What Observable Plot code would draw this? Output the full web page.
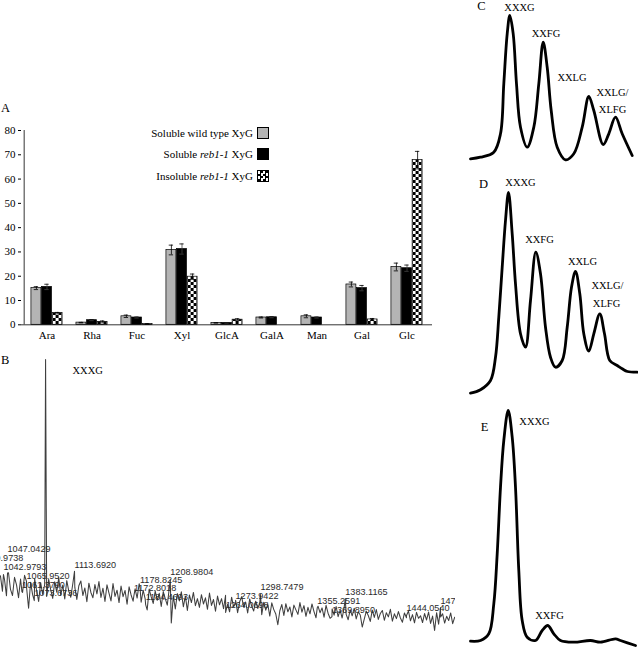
<!DOCTYPE html>
<html><head><meta charset="utf-8">
<script src="https://cdn.jsdelivr.net/npm/d3@7"></script>
<script src="https://cdn.jsdelivr.net/npm/@observablehq/plot@0.6"></script>
<style>
html,body{margin:0;padding:0;background:#fff;}
#fig{position:relative;width:638px;height:648px;overflow:hidden;background:#fff;font-family:"Liberation Serif",serif;color:#000;}
#fig > *{position:absolute;}
.letter{font-size:12.5px;line-height:1;}
#legend{left:0;top:122px;width:269px;font-size:11px;}
#legend .row{display:flex;justify-content:flex-end;align-items:center;height:21.6px;}
#legend .sw{width:10px;height:10px;margin-left:4px;border:0.8px solid #000;}
</style></head><body>
<svg width="0" height="0" style="position:absolute"><defs>
<pattern id="checker" width="6" height="6" patternUnits="userSpaceOnUse">
<rect width="6" height="6" fill="#fff"/><rect width="3" height="3" fill="#000"/><rect x="3" y="3" width="3" height="3" fill="#000"/>
</pattern></defs></svg>
<div id="fig"></div>
<script>
// ---------- Panel A data ----------
const sugars = ["Ara","Rha","Fuc","Xyl","GlcA","GalA","Man","Gal","Glc"];
const seriesNames = ["Soluble wild type XyG","Soluble reb1-1 XyG","Insoluble reb1-1 XyG"];
const wildType        = [15.1, 0.9, 3.5, 30.8, 0.8, 3.0, 3.5, 16.6, 23.8];
const wildTypeErr     = [0.6, 0.1, 0.5, 2.0, 0.1, 0.2, 0.6, 1.0, 1.6];
const reb1Soluble     = [15.6, 1.9, 3.0, 31.2, 0.8, 3.1, 3.0, 15.1, 23.3];
const reb1SolubleErr  = [1.1, 0.2, 0.2, 2.1, 0.1, 0.2, 0.2, 1.1, 1.3];
const reb1Insoluble   = [4.8, 1.2, 0.3, 19.8, 2.1, 0, 0, 2.2, 67.8];
const reb1InsolubleErr= [0.3, 0.4, 0.1, 1.1, 0.4, 0, 0, 0.4, 3.6];
const yTicksA = [0,10,20,30,40,50,60,70,80];

// ---------- Panel B data (MALDI spectrum) ----------
const noiseStartMz = 1040, noiseStepMz = 2;
const noiseLevels = [
23.0,17.5,21.8,15.9,24.1,18.2,16.0,22.5,19.8,15.2,
21.9,17.1,23.2,18.8,11.5,20.7,16.3,22.0,17.8,13.9,
20.6,16.4,19.9,15.7,21.8,18.1,15.0,20.9,17.2,22.4,
16.1,19.7,14.8,21.3,17.6,15.4,20.2,18.9,14.6,19.5,
21.2,16.0,18.7,13.8,20.4,17.1,15.2,19.9,16.6,21.0,
15.3,18.6,13.9,19.8,16.9,14.1,20.3,15.7,17.9,13.5,
19.4,15.6,17.8,12.9,19.1,16.2,14.0,18.4,15.1,20.2,
13.6,17.9,14.8,10.9,18.3,15.5,13.2,17.6,14.3,16.8,
12.1,17.4,14.9,12.6,18.6,6.2,15.9,11.2,16.7,14.1,
17.3,12.0,15.8,10.7,16.2,13.5,17.1,12.4,14.9,11.8,
16.3,13.0,15.2,11.1,16.9,12.5,14.6,10.4,15.8,12.7,
14.9,11.3,16.1,12.9,10.2,15.4,12.0,14.3,9.9,13.8,
15.6,11.9,13.7,9.8,14.8,12.2,10.5,14.0,11.4,13.2,
9.2,13.6,10.8,12.9,8.7,13.4,11.0,9.4,5.6,10.6,
12.8,8.9,13.1,10.2,11.9,8.4,12.6,10.9,9.3,13.5,
10.1,12.4,8.6,11.8,9.5,13.0,10.3,8.1,12.2,9.9,
11.6,8.3,12.5,9.7,7.9,11.2,9.0,12.1,8.5,10.8,
8.0,11.7,9.3,7.4,10.9,8.8,11.5,7.7,10.2,9.1,
4.8,7.6,10.4,8.9,6.8,10.8,8.2,11.0,7.5,9.6,
10.7,7.2,9.9,8.4,11.1,6.9,9.5,7.8,10.3,8.0,
6.5,9.8,8.1,10.5,7.0,9.2,6.3,10.0,7.9,8.8,
6.4,9.6,7.3,10.1,6.1,8.7,3.6,9.9,5.8,8.4,
9.5,6.2,8.6,7.1,9.8,6.0,8.3];
const peakMz     = [1042.9793,1047.0429,1061.3790,1065.9520,1073.6736,1084.9,1113.6920,1172.8018,1178.8245,1184.4693,1208.9804,1264.0698,1273.9422,1298.7479,1355.2591,1369.8950,1383.1165,1444.0540,1477.8763];
const peakHeight = [23.5,24.0,17.4,21.0,14.2,100,24.6,16.0,19.0,12.8,21.7,10.0,13.2,16.4,11.7,8.5,14.9,8.9,11.7];
const labelMz    = [1019.9738,1042.9793,1047.0429,1061.3790,1065.9520,1073.6736,1113.6920,1172.8018,1178.8245,1184.4693,1208.9804,1264.0698,1273.9422,1298.7479,1355.2591,1369.8950,1383.1165,1444.0540,1477.8763];
const labelLevel = [29.2,26.0,32.4,19.9,23.1,16.7,27.0,18.5,21.4,15.3,24.2,12.5,15.7,18.9,14.2,11.0,17.4,11.4,14.2];

// ---------- Panels C, D, E data (HPAEC traces) ----------
const traceC_t = [0,1.0,2.33,3.0,3.33,3.67,3.93,4.27,4.6,5.0,5.67,6.33,6.83,7.27,7.67,8.07,8.67,9.5,10.33,11.17,11.83,12.33,13.27,13.83,14.5,15.17,16.17];
const traceC_v = [1.7,3.3,8.3,26.7,76.7,126.7,145,126.7,76.7,33.3,13.3,33.3,76.7,118.3,93.3,50,13.3,0.7,6.7,33.3,64,50,16,26.7,43.3,26.7,5];
const traceD_t = [0,1,2,2.5,2.83,3.17,3.5,3.8,4.17,4.5,5,5.5,6,6.53,7,7.5,8,8.5,9.17,9.67,10.1,10.5,10.93,11.33,11.83,12.33,12.93,13.4,13.93,14.67,15.17,15.7,16.67];
const traceD_v = [2.3,5.7,15,38.3,78.3,128.3,175,203,161.7,111.7,61.7,48.3,95,143.3,121.7,68.3,38.3,28.3,35,68.3,108.3,124,101.7,61.7,44.3,61.7,81.7,61.7,35,30,26.7,24,23.3];
const traceE_t = [0,1,1.83,2.33,2.67,3,3.33,3.77,4.17,4.5,4.83,5.17,5.67,6.5,7.17,7.73,8.33,9,10.33,12,13,14.5,15,16.5];
const traceE_v = [4.3,5,11.7,41.7,91.7,158.3,205,235,208.3,158.3,75,25,8.3,5,15,20,11.7,5,3.3,5,3.3,6.7,5,0];
const labelsC = [{t:4.9,v:153,s:"XXXG"},{t:7.55,v:127,s:"XXFG"},{t:10.15,v:83.3,s:"XXLG"},{t:14.2,v:68.3,s:"XXLG/"},{t:14.2,v:51.3,s:"XLFG"}];
const labelsD = [{t:5.0,v:213,s:"XXXG"},{t:6.9,v:156,s:"XXFG"},{t:11.2,v:134,s:"XXLG"},{t:13.7,v:110,s:"XXLG/"},{t:13.6,v:92,s:"XLFG"}];
const labelsE = [{t:6.4,v:224,s:"XXXG"},{t:7.9,v:30,s:"XXFG"}];
const letterC = {t:1.1,v:155,s:"C"}, letterD = {t:1.3,v:212,s:"D"}, letterE = {t:1.4,v:219,s:"E"};

const fig = document.getElementById("fig");
const serif = "Liberation Serif, Times New Roman, serif";
function place(el, left, top) { el.style.left = left + "px"; el.style.top = top + "px"; fig.appendChild(el); return el; }

// ---------- Panel A ----------
const rows = [];
sugars.forEach((s, i) => {
  rows.push({sugar: s, k: 0, value: wildType[i], err: wildTypeErr[i]});
  rows.push({sugar: s, k: 1, value: reb1Soluble[i], err: reb1SolubleErr[i]});
  rows.push({sugar: s, k: 2, value: reb1Insoluble[i], err: reb1InsolubleErr[i]});
});
const bandW = (432 - 21) / sugars.length;
const barW = 10.6;
const barInset = (bandW - barW) / 2;
const capInset = (bandW - 5) / 2;
const styleA = [{fill: "#b4b4b4", dx: -barW}, {fill: "#000", dx: 0}, {fill: "url(#checker)", dx: barW}];
const marksA = [];
styleA.forEach((st, k) => {
  marksA.push(Plot.barY(rows.filter(r => r.k === k), {x: "sugar", y1: 0, y2: "value", fill: st.fill, stroke: "#000", strokeWidth: 0.7, insetLeft: barInset, insetRight: barInset, dx: st.dx}));
});
styleA.forEach((st, k) => {
  const d = rows.filter(r => r.k === k && r.err > 0);
  marksA.push(Plot.ruleX(d, {x: "sugar", y1: r => r.value - r.err, y2: r => r.value + r.err, stroke: k === 1 ? "#444" : "#000", strokeWidth: 0.8, dx: st.dx}));
  marksA.push(Plot.tickY(d, {x: "sugar", y: r => r.value + r.err, stroke: "#000", strokeWidth: 0.8, insetLeft: capInset, insetRight: capInset, dx: st.dx}));
  marksA.push(Plot.tickY(d, {x: "sugar", y: r => r.value - r.err, stroke: k === 1 ? "#444" : "#000", strokeWidth: 0.8, insetLeft: capInset, insetRight: capInset, dx: st.dx}));
});
marksA.push(Plot.ruleY([0], {stroke: "#000", strokeWidth: 0.8}));
marksA.push(Plot.ruleX([sugars[0]], {y1: 0, y2: 80, stroke: "#000", strokeWidth: 0.8, dx: -bandW / 2}));

const plotA = Plot.plot({
  width: 460, height: 250,
  marginTop: 34, marginBottom: 21.7, marginLeft: 21, marginRight: 28,
  style: {fontFamily: serif, fontSize: "11px", color: "#000", background: "transparent"},
  x: {domain: sugars, padding: 0, label: null, tickSize: 0, tickPadding: 6},
  y: {domain: [0, 80], ticks: yTicksA, tickSize: 3, tickPadding: 3, label: null},
  marks: marksA
});
place(plotA, 0, 96);

// legend
const legend = document.createElement("div");
legend.id = "legend";
const swatchCss = [
  "background:#b4b4b4;",
  "background:#000;",
  "background:repeating-conic-gradient(#000 0 25%, #fff 0 50%) 0 0/5px 5px;"
];
legend.innerHTML = seriesNames.map((n, k) => {
  const html = n.replace("reb1-1", "<i>reb1-1</i>");
  return `<div class="row"><span>${html}</span><span class="sw" style="${swatchCss[k]}"></span></div>`;
}).join("");
fig.appendChild(legend);

// panel letters A, B
const lA = document.createElement("div"); lA.className = "letter"; lA.textContent = "A"; place(lA, 1, 102);
const lB = document.createElement("div"); lB.className = "letter"; lB.textContent = "B"; place(lB, 1, 354);

// ---------- Panel B ----------
const spectrum = noiseLevels.map((v, i) => ({mz: noiseStartMz + i * noiseStepMz, v}))
  .concat(peakMz.map((mz, i) => ({mz, v: peakHeight[i]})))
  .sort((a, b) => a.mz - b.mz);
const specLabels = labelMz.map((mz, i) => ({mz, v: labelLevel[i], s: mz.toFixed(4)}));
const plotB = Plot.plot({
  width: 455, height: 300, margin: 0,
  style: {background: "transparent", overflow: "hidden"},
  x: {domain: [1040.05, 1492.8], range: [0, 455], axis: null},
  y: {domain: [0, 100], range: [295, 14], axis: null},
  marks: [
    Plot.line(spectrum, {x: "mz", y: "v", stroke: "#3f3f3f", strokeWidth: 1.05}),
    Plot.text(specLabels, {x: "mz", y: "v", text: "s", textAnchor: "start", fontFamily: "Liberation Sans, Arial, sans-serif", fontSize: 9.1, fill: "#2a2a2a"}),
    Plot.text([{mz: 1111.7, v: 96.1, s: "XXXG"}], {x: "mz", y: "v", text: "s", textAnchor: "start", fontFamily: serif, fontSize: 10.5, fill: "#000"})
  ]
});
place(plotB, 0, 345);

// ---------- Panels C, D, E ----------
function trace(ts, vs, labels, letter, top, height, vmax, base) {
  const data = ts.map((t, i) => ({t, v: vs[i]}));
  return Plot.plot({
    width: 178, height, margin: 0,
    style: {background: "transparent", overflow: "hidden"},
    x: {domain: [0, 16.8], range: [10, 178], axis: null},
    y: {domain: [0, vmax], range: [base, base - vmax], axis: null},
    marks: [
      Plot.line(data, {x: "t", y: "v", stroke: "#000", strokeWidth: 2.8, curve: "catmull-rom", strokeLinejoin: "round"}),
      Plot.text(labels, {x: "t", y: "v", text: "s", fontFamily: serif, fontSize: 10.5, fill: "#000"}),
      Plot.text([letter], {x: "t", y: "v", text: "s", fontFamily: serif, fontSize: 12.5, fill: "#000"})
    ]
  });
}
place(trace(traceC_t, traceC_v, labelsC, letterC, 0, 175, 150, 160), 460, 0);
place(trace(traceD_t, traceD_v, labelsD, letterD, 175, 225, 210, 220), 460, 175);
place(trace(traceE_t, traceE_v, labelsE, letterE, 400, 248, 235, 245), 460, 400);
</script>
</body></html>
